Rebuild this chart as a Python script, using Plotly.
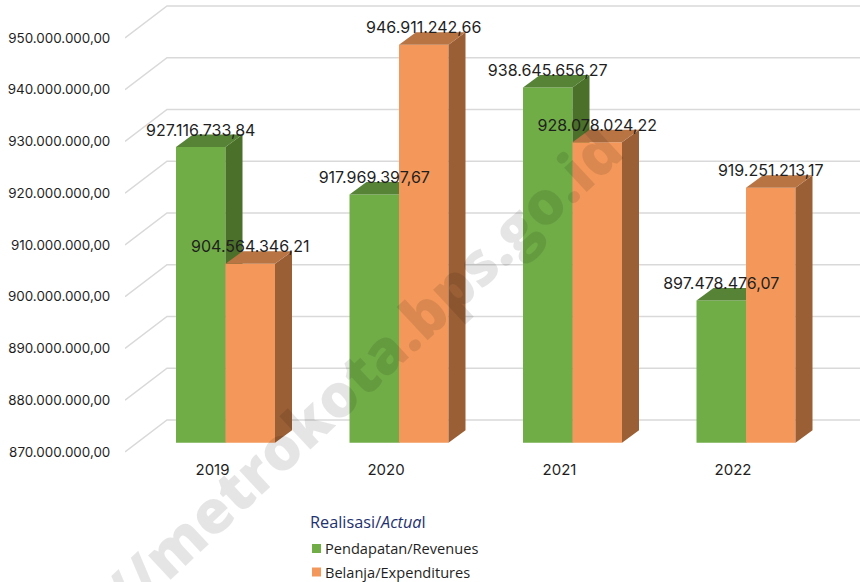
import plotly.graph_objects as go

years = ["2019", "2020", "2021", "2022"]
revenues = [927116733.84, 917969397.67, 938645656.27, 897478476.07]
expenditures = [904564346.21, 946911242.66, 928078024.22, 919251213.17]
revenue_labels = ["927.116.733,84", "917.969.397,67", "938.645.656,27", "897.478.476,07"]
expenditure_labels = ["904.564.346,21", "946.911.242,66", "928.078.024,22", "919.251.213,17"]
axis_ticks = [870e6, 880e6, 890e6, 900e6, 910e6, 920e6, 930e6, 940e6, 950e6]
axis_labels = ["870.000.000,00", "880.000.000,00", "890.000.000,00", "900.000.000,00",
               "910.000.000,00", "920.000.000,00", "930.000.000,00", "940.000.000,00", "950.000.000,00"]

W, H = 860, 582
L, B_PX = 125, 455            # plot area left edge and bottom edge, px
PX_PER_VALUE = 51.75 / 10e6   # px per unit on the y axis
PX_PER_X = 173.5              # px per category
BASE = 870e6
y_lo = BASE - (B_PX - 442.7) / PX_PER_VALUE
y_hi = BASE + 442.7 / PX_PER_VALUE
x_lo = -(225.5 - L) / PX_PER_X
x_hi = (W - 225.5) / PX_PER_X
bar_w = 49.5 / PX_PER_X
depth_x = 17 / PX_PER_X
depth_y = 12.5 / PX_PER_VALUE
grid_front = -9.3 / PX_PER_VALUE
grid_back = 22.7 / PX_PER_VALUE
wall_x = x_lo + 42 / PX_PER_X
label_lift = 15.5 / PX_PER_VALUE
x_pos = list(range(len(years)))

GREEN, GREEN_SIDE, GREEN_TOP = "#70ad47", "#4a7029", "#568336"
ORANGE, ORANGE_SIDE, ORANGE_TOP = "#f3985a", "#9a5f35", "#b97444"
TEXT = "#1f1f1f"
LABEL_FONT = "Inter"

fig = go.Figure()

# slanted wall and floor gridlines
for v in axis_ticks:
    fig.add_trace(go.Scatter(
        x=[x_lo, wall_x, x_hi], y=[v + grid_front, v + grid_back, v + grid_back],
        mode="lines", line=dict(color="#d9d9d9", width=1.5), hoverinfo="skip",
        showlegend=False, xaxis="x", yaxis="y", cliponaxis=False))


def add_bars(values, offset, color, side, top, yaxis, name):
    fig.add_trace(go.Bar(x=x_pos, y=[v - BASE for v in values], base=BASE, width=bar_w, offset=offset,
                         marker=dict(color=color, line=dict(width=0)), name=name,
                         xaxis="x", yaxis=yaxis, showlegend=False))
    for x, v in zip(x_pos, values):
        xl = x + offset
        xr = xl + bar_w
        fig.add_trace(go.Scatter(
            x=[xr, xr + depth_x, xr + depth_x, xr, xr],
            y=[BASE, BASE + depth_y, v + depth_y, v, BASE],
            mode="lines", fill="toself", fillcolor=side, line=dict(width=0),
            hoverinfo="skip", showlegend=False, xaxis="x", yaxis=yaxis))
        fig.add_trace(go.Scatter(
            x=[xl, xl + depth_x, xr + depth_x, xr, xl],
            y=[v, v + depth_y, v + depth_y, v, v],
            mode="lines", fill="toself", fillcolor=top, line=dict(width=0),
            hoverinfo="skip", showlegend=False, xaxis="x", yaxis=yaxis))


add_bars(revenues, -bar_w, GREEN, GREEN_SIDE, GREEN_TOP, "y2", "Pendapatan/Revenues")
add_bars(expenditures, 0, ORANGE, ORANGE_SIDE, ORANGE_TOP, "y3", "Belanja/Expenditures")

# data labels
for values, labels, dx in [(revenues, revenue_labels, -bar_w / 2), (expenditures, expenditure_labels, bar_w / 2)]:
    fig.add_trace(go.Scatter(
        x=[x + dx for x in x_pos], y=[v + label_lift for v in values], text=labels,
        mode="text", textposition="middle center",
        textfont=dict(family=LABEL_FONT, size=16, color=TEXT),
        hoverinfo="skip", showlegend=False, xaxis="x", yaxis="y3", cliponaxis=False))


def px(x):
    return (x - L) / (W - L)


def py(y):
    return (B_PX - y) / B_PX


annotations = [
    dict(text="//metrokota.bps.go.id", x=px(362), y=py(370), xref="paper", yref="paper",
         showarrow=False, textangle=-43, xanchor="center", yanchor="middle",
         font=dict(family="Open Sans", size=60, color="rgba(0,0,0,0.1)", weight=800)),
    dict(text="Realisasi/<i>Actua</i>l", x=px(308), y=py(522), xref="paper", yref="paper",
         showarrow=False, xanchor="left", yanchor="middle",
         font=dict(family="Open Sans", size=16.3, color="#1f3270")),
    dict(text="Pendapatan/Revenues", x=px(323), y=py(548), xref="paper", yref="paper",
         showarrow=False, xanchor="left", yanchor="middle",
         font=dict(family="Open Sans", size=14.6, color=TEXT)),
    dict(text="Belanja/Expenditures", x=px(323), y=py(572), xref="paper", yref="paper",
         showarrow=False, xanchor="left", yanchor="middle",
         font=dict(family="Open Sans", size=14.6, color=TEXT)),
]
shapes = [
    dict(type="rect", xref="paper", yref="paper", x0=px(312), x1=px(321), y0=py(553), y1=py(544),
         fillcolor=GREEN, line=dict(width=0)),
    dict(type="rect", xref="paper", yref="paper", x0=px(312), x1=px(321), y0=py(576.5), y1=py(567.5),
         fillcolor=ORANGE, line=dict(width=0)),
]

axis_shift = -grid_front
fig.update_layout(
    width=W, height=H, autosize=False,
    margin=dict(l=L, r=0, t=0, b=H - B_PX),
    paper_bgcolor="white", plot_bgcolor="white",
    showlegend=False, barmode="overlay",
    annotations=annotations, shapes=shapes,
    xaxis=dict(range=[x_lo, x_hi], tickmode="array", tickvals=[x - 0.075 for x in x_pos], ticktext=years,
               showgrid=False, zeroline=False, showline=False, ticks="outside", ticklen=1,
               tickcolor="rgba(0,0,0,0)", tickfont=dict(family=LABEL_FONT, size=15, color=TEXT)),
    yaxis=dict(range=[y_lo, y_hi], visible=False),
    yaxis2=dict(range=[y_lo, y_hi], overlaying="y", visible=False),
    yaxis3=dict(range=[y_lo, y_hi], overlaying="y", visible=False),
    yaxis4=dict(range=[y_lo + axis_shift, y_hi + axis_shift], overlaying="y", side="left",
                tickmode="array", tickvals=axis_ticks, ticktext=axis_labels,
                showgrid=False, zeroline=False, showline=False, ticks="outside", ticklen=11,
                tickcolor="rgba(0,0,0,0)", tickfont=dict(family=LABEL_FONT, size=13.4, color=TEXT)),
)
# an invisible trace keeps the tick-label axis drawn
fig.add_trace(go.Scatter(x=[x_pos[0]], y=[axis_ticks[0]], mode="markers", marker=dict(opacity=0),
                         hoverinfo="skip", showlegend=False, xaxis="x", yaxis="y4"))

fig.write_html("out.html", config=dict(displayModeBar=False),
               post_script="document.body.style.margin='0';")
